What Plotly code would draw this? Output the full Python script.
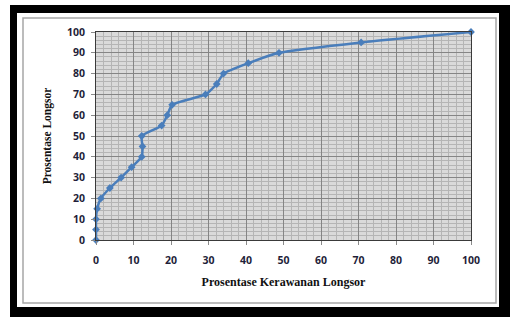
import plotly.graph_objects as go

# Data
kerawanan = [0, 0, 0, 0.3, 1.3, 3.7, 6.7, 9.5, 12.2, 12.4, 12.2, 17.5, 19.0, 20.3, 29.2, 32.2, 34.0, 40.6, 48.8, 70.7, 100]
longsor = [0, 5, 10, 15, 20, 25, 30, 35, 40, 45, 50, 55, 60, 65, 70, 75, 80, 85, 90, 95, 100]
tick_vals = [0, 10, 20, 30, 40, 50, 60, 70, 80, 90, 100]

W, H = 514, 318
L, R, T, B = 96, 471, 32, 240


def px(x):
    return (x - L) / (R - L)


def py(y):
    return (B - y) / (B - T)


fig = go.Figure()
fig.add_trace(go.Scatter(
    x=kerawanan, y=longsor, mode="lines+markers",
    line=dict(color="#4A7EBB", width=2.5, shape="spline", smoothing=0.5),
    marker=dict(symbol="diamond", size=6, color="#4A7EBB"),
    cliponaxis=False, showlegend=False,
))

shapes = []
# black frame bands
for (x0, y0, x1, y1) in [(10, 5, 510, 13), (10, 307, 510, 317), (10, 5, 17, 317), (499, 5, 510, 317)]:
    shapes.append(dict(type="rect", xref="paper", yref="paper",
                       x0=px(x0), x1=px(x1), y0=py(y0), y1=py(y1),
                       fillcolor="black", line=dict(width=0), layer="above"))
# grey inner border
shapes.append(dict(type="rect", xref="paper", yref="paper",
                   x0=px(23), x1=px(496), y0=py(18), y1=py(303),
                   line=dict(color="#A6A6A6", width=1.5), fillcolor="rgba(0,0,0,0)", layer="above"))

tickfont = dict(family="Open Sans", size=10.5, color="#1F1F3A", weight="bold")
axis_common = dict(
    range=[0, 100], tickvals=tick_vals, showgrid=True, gridcolor="#858585", gridwidth=1,
    minor=dict(dtick=2, showgrid=True, gridcolor="#B5B5B5", gridwidth=1),
    showline=True, linecolor="#3A3A3A", linewidth=1, mirror=True,
    ticks="outside", ticklen=4, tickcolor="#8A8A8A",
    tickfont=tickfont, zeroline=False, fixedrange=True,
)

fig.update_layout(
    width=W, height=H,
    margin=dict(l=L, r=W - R, t=T, b=H - B, pad=0),
    paper_bgcolor="white", plot_bgcolor="#DADADA",
    xaxis=dict(**axis_common, ticklabelstandoff=6,
               title=dict(text="<b>Prosentase Kerawanan Longsor</b>",
                          font=dict(family="Liberation Serif", size=12, color="#111111"),
                          standoff=12)),
    yaxis=dict(**axis_common, ticklabelstandoff=4,
               title=dict(text="<b>Prosentase Longsor</b>",
                          font=dict(family="Liberation Serif", size=11.5, color="#111111"),
                          standoff=12)),
    shapes=shapes,
)

fig.write_html("out.html", config={"displayModeBar": False},
               post_script="document.body.style.margin='0';document.body.style.overflow='hidden';")
